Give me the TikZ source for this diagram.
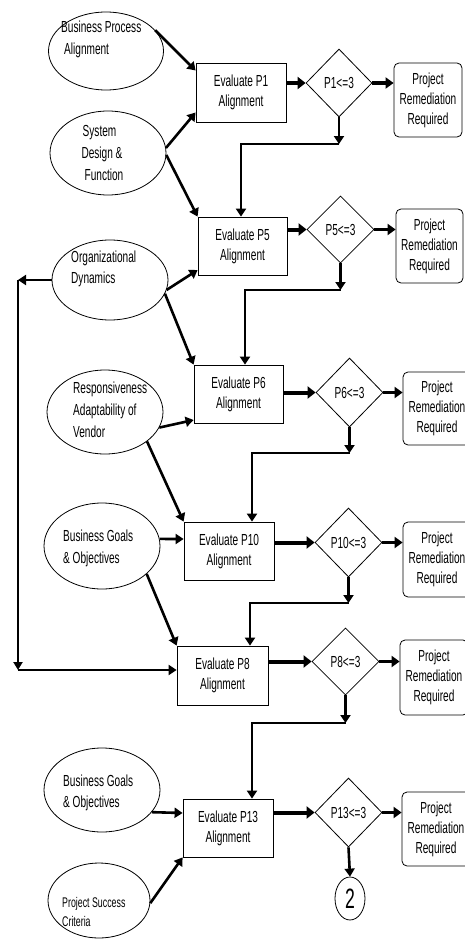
\documentclass[tikz,border=0pt]{standalone}
\usepackage{fontspec}
\setmainfont{Liberation Sans}[FakeStretch=0.63]
\usetikzlibrary{shapes.geometric,arrows.meta,calc}
\begin{document}
\begin{tikzpicture}[x=1pt,y=-1pt,
  every node/.style={font=\fontsize{16}{20}\selectfont, inner sep=0pt},
  ell/.style={draw, ellipse, line width=0.8pt},
  box/.style={draw, rectangle, line width=0.8pt, align=center, minimum width=90pt, minimum height=58pt},
  dia/.style={draw, diamond, line width=0.8pt, minimum width=67pt, minimum height=68pt},
  rr/.style={draw, rectangle, rounded corners=5pt, line width=0.8pt, align=center, minimum width=68pt, minimum height=74pt},
  conn/.style={line width=2.6pt, -{Triangle[length=8pt,width=10pt]}},
  thk/.style={line width=4pt, -{Triangle[length=8pt,width=12pt]}},
  plain/.style={line width=2.6pt},
  lbl/.style={anchor=base west},
  clbl/.style={anchor=base},
]
\useasboundingbox (0,0) rectangle (464,939);
\fill[white] (0,0) rectangle (464,939);

% ellipses (inputs)
\node[ell, minimum width=115pt, minimum height=78pt] (e1) at (106,51) {};
\node[ell, minimum width=116pt, minimum height=84pt] (e2) at (108,153) {};
\node[ell, minimum width=116pt, minimum height=80pt] (e3) at (110,280) {};
\node[ell, minimum width=116pt, minimum height=84pt] (e4) at (105,412) {};
\node[ell, minimum width=116pt, minimum height=86pt] (e5) at (102,546) {};
\node[ell, minimum width=116pt, minimum height=84pt] (e6) at (102,790) {};
\node[ell, minimum width=102pt, minimum height=75pt] (e7) at (99,900.5) {};

% ellipse texts
\node[lbl] (t1a) at (61,33) {Business Process};
\node[lbl] (t1b) at (64,55) {Alignment};
\node[clbl] (t2a) at (99.5,136) {System};
\node[clbl] (t2b) at (102,158) {Design \&};
\node[clbl] (t2c) at (104,180) {Function};
\node[lbl] (t3a) at (71,262) {Organizational};
\node[lbl] (t3b) at (71,283) {Dynamics};
\node[lbl] (t4a) at (73,393) {Responsiveness};
\node[lbl] (t4b) at (73,415) {Adaptability of};
\node[lbl] (t4c) at (73,437) {Vendor};
\node[lbl] (t5a) at (63,541) {Business Goals};
\node[lbl] (t5b) at (63,563) {\& Objectives};
\node[lbl] (t6a) at (63,786) {Business Goals};
\node[lbl] (t6b) at (63,807) {\& Objectives};
\node[lbl, font=\fontsize{14}{16}\selectfont] (t7a) at (62,907) {Project Success};
\node[lbl, font=\fontsize{14}{16}\selectfont] (t7b) at (62,926) {Criteria};

% evaluate boxes
\node[box, minimum height=59pt] (b1) at (241,92.5) {Evaluate P1\\Alignment};
\node[box, minimum width=89pt] (b5) at (242.5,246) {Evaluate P5\\Alignment};
\node[box, minimum width=89pt] (b6) at (238.5,394) {Evaluate P6\\Alignment};
\node[box] (b10) at (229,551) {Evaluate P10\\Alignment};
\node[box, minimum width=91pt, minimum height=59pt] (b8) at (222.5,675.5) {Evaluate P8\\Alignment};
\node[box] (b13) at (228,828) {Evaluate P13\\Alignment};

% decisions
\node[dia, minimum width=66pt] (d1) at (339,83) {P1<=3};
\node[dia, minimum height=67pt] (d5) at (340.5,229.5) {P5<=3};
\node[dia, minimum height=69pt] (d6) at (349.5,392.5) {P6<=3};
\node[dia, minimum height=69pt] (d10) at (348.5,542.5) {P10<=3};
\node[dia, minimum height=67pt] (d8) at (345.5,661.5) {P8<=3};
\node[dia, minimum height=69pt] (d13) at (348.5,812.5) {P13<=3};

% remediation boxes
\node[rr] (r1) at (428,100) {Project\\Remediation\\Required};
\node[rr, minimum width=67pt] (r5) at (429.5,246) {Project\\Remediation\\Required};
\node[rr, minimum height=73pt] (r6) at (437,408.5) {Project\\Remediation\\Required};
\node[rr, minimum height=75pt] (r10) at (437,559.5) {Project\\Remediation\\Required};
\node[rr, minimum height=75pt] (r8) at (434,677.5) {Project\\Remediation\\Required};
\node[rr] (r13) at (436,829) {Project\\Remediation\\Required};

% connector circle
\node[draw, ellipse, line width=0.8pt, minimum width=30pt, minimum height=43pt, font=\fontsize{28}{30}\selectfont] (c2) at (350,898.5) {2};

% junction coordinates
\coordinate (j1) at (339,144);   \coordinate (k1) at (241,144);
\coordinate (j5) at (340.5,290); \coordinate (k5) at (245,290);
\coordinate (j6) at (349.5,453); \coordinate (k6) at (252,453);
\coordinate (j10) at (348.5,603);\coordinate (k10) at (250,603);
\coordinate (j8) at (345.5,723); \coordinate (k8) at (252,723);
\coordinate (L1) at (18,280);    \coordinate (L2) at (18,670);

% inputs to evaluations
\draw[conn] (e1.23) -- ([yshift=22pt]b1.west);
\draw[conn] (e2.5) -- ([yshift=-20pt]b1.west);
\draw[conn] (e2.-2) -- (b5.north west);
\draw[conn] (e3.-10) -- ([yshift=-24pt]b5.west);
\draw[conn] (e3.-14) -- (b6.north west);
\draw[conn] (e4.-16) -- ([yshift=-26pt]b6.west);
\draw[conn] (e4.-35) -- (b10.north west);
\draw[conn] (e5.7) -- ([yshift=12pt]b10.west);
\draw[conn] (e5.-32) -- (b8.north west);
\draw[conn] (e6.-24) -- ([yshift=15pt]b13.west);
\draw[conn] (e7.-3) -- (b13.south west);

% organizational dynamics loop
\draw[conn] (e3.west) -- (L1);
\draw[line width=2.2pt, -{Triangle[length=8pt,width=9pt]}] (L1) -- (L2);
\draw[conn] (L2) -- (L2 -| b8.west);

% evaluation to decision
\foreach \b/\d in {b1/d1,b5/d5,b6/d6,b10/d10,b8/d8,b13/d13}{
  \draw[thk] (\b.east |- \d.west) -- (\d.west);
}
% decision to remediation
\foreach \d/\r in {d1/r1,d5/r5,d6/r6,d10/r10,d8/r8,d13/r13}{
  \draw[line width=3.4pt, -{Triangle[length=8pt,width=11pt]}] (\d.east) -- (\d.east -| \r.west);
}

% decision down to next evaluation
\draw[conn] (d1.south) -- (j1);
\draw[plain, -{Triangle[length=8pt,width=10pt]}] (j1) -- (k1) -- (b5.north -| k1);
\draw[conn] (d5.south) -- (j5);
\draw[plain, -{Triangle[length=8pt,width=10pt]}] (j5) -- (k5) -- (b6.north -| k5);
\draw[conn] (d6.south) -- (j6);
\draw[plain, -{Triangle[length=8pt,width=10pt]}] (j6) -- (k6) -- (b10.north -| k6);
\draw[conn] (d10.south) -- (j10);
\draw[plain, -{Triangle[length=8pt,width=10pt]}] (j10) -- (k10) -- (b8.north -| k10);
\draw[conn] (d8.south) -- (j8);
\draw[plain, -{Triangle[length=8pt,width=10pt]}] (j8) -- (k8) -- (b13.north -| k8);
\draw[conn] (d13.south) -- (c2.north);
\end{tikzpicture}
\end{document}
